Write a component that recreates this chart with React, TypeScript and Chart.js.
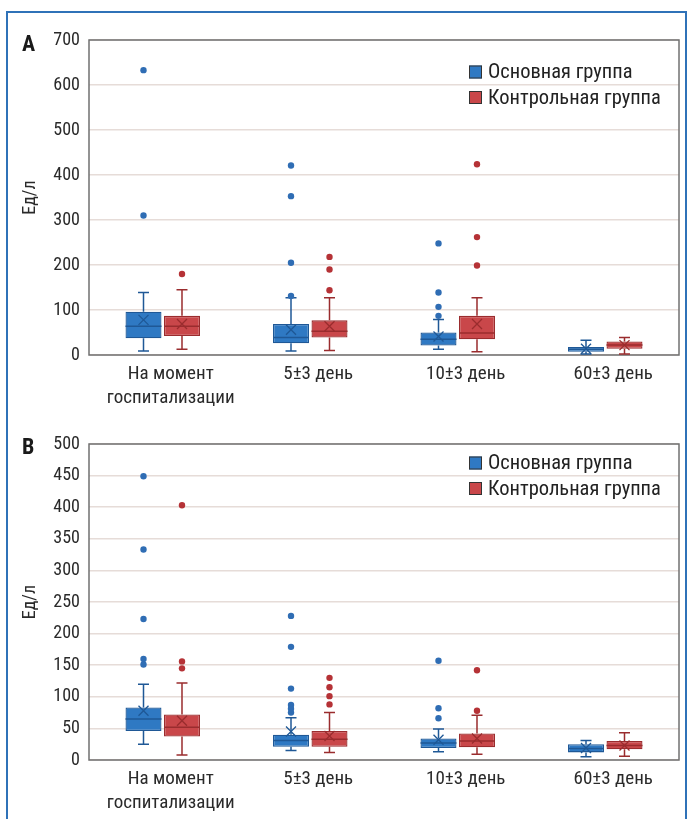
import React, { useEffect, useRef } from 'react';
import { Chart, registerables } from 'chart.js';

Chart.register(...registerables);

// ---------- data ----------
const categories: (string | string[])[] = [['На момент', 'госпитализации'], '5±3 день', '10±3 день', '60±3 день'];
const seriesNames = ['Основная группа', 'Контрольная группа'];
const yUnit = 'Ед/л';

// Panel A
const aMainMin = [9, 9, 13, 2];
const aMainQ1 = [37, 26, 21, 7];
const aMainMedian = [64, 39, 35, 13];
const aMainQ3 = [96, 69, 50, 18];
const aMainMax = [139, 127, 79, 33];
const aMainMean = [78, 56, 41, 14];
const aMainOutliers = [[633, 310], [421, 353, 205, 131], [248, 139, 107, 87], []];

const aCtrlMin = [13, 10, 7, 2];
const aCtrlQ1 = [42, 39, 35, 14];
const aCtrlMedian = [64, 53, 49, 22];
const aCtrlQ3 = [87, 77, 87, 30];
const aCtrlMax = [145, 127, 127, 39];
const aCtrlMean = [69, 64, 69, 22];
const aCtrlOutliers = [[180], [218, 190, 144], [424, 262, 199], []];

const aTicks = { min: 0, max: 700, step: 100 };

// Panel B
const bMainMin = [25, 15, 13, 5];
const bMainQ1 = [46, 21, 19, 12];
const bMainMedian = [65, 31, 27, 18];
const bMainQ3 = [83, 40, 34, 25];
const bMainMax = [120, 67, 49, 31];
const bMainMean = [78, 45, 32, 19];
const bMainOutliers = [[449, 333, 223, 160, 151], [228, 179, 113, 87, 81, 75], [157, 82, 66], []];

const bCtrlMin = [8, 12, 9, 6];
const bCtrlQ1 = [37, 21, 20, 17];
const bCtrlMedian = [52, 33, 30, 23];
const bCtrlQ3 = [72, 46, 42, 30];
const bCtrlMax = [122, 75, 71, 43];
const bCtrlMean = [62, 38, 34, 23];
const bCtrlOutliers = [[403, 156, 145], [130, 115, 101, 88], [142, 78], []];

const bTicks = { min: 0, max: 500, step: 50 };

// ---------- styles ----------
const FONT = "'Liberation Sans Narrow', 'Roboto Condensed', 'Arial Narrow', 'DejaVu Sans Condensed', sans-serif";
const BLUE = { fill: '#2f79c3', line: '#1f5896', point: '#2f6db4' };
const RED = { fill: '#c9474a', line: '#9a2c2e', point: '#b53236' };

type Stats = { min: number[]; q1: number[]; med: number[]; q3: number[]; max: number[]; mean: number[]; out: number[][]; line: string; point: string };

const boxPlugin = {
  id: 'boxExtras',
  beforeDatasetsDraw(chart: any) {
    const { ctx, chartArea: a } = chart;
    ctx.save();
    ctx.strokeStyle = '#707070';
    ctx.lineWidth = 1.5;
    ctx.strokeRect(a.left, a.top, a.right - a.left, a.bottom - a.top);
    ctx.restore();
  },
  afterDatasetsDraw(chart: any, _args: any, opts: any) {
    const ys = chart.scales.y;
    const ctx = chart.ctx;
    const py = (v: number) => ys.getPixelForValue(v);
    const cap = 5.5;
    (opts.stats as Stats[]).forEach((s, d) => {
      const meta = chart.getDatasetMeta(d);
      meta.data.forEach((el: any, i: number) => {
        const x = el.x;
        const w = el.width;
        ctx.save();
        ctx.strokeStyle = s.line;
        ctx.lineWidth = 1.5;
        ctx.beginPath();
        ctx.moveTo(x, py(s.q3[i]));
        ctx.lineTo(x, py(s.max[i]));
        ctx.moveTo(x - cap, py(s.max[i]));
        ctx.lineTo(x + cap, py(s.max[i]));
        ctx.moveTo(x, py(s.q1[i]));
        ctx.lineTo(x, py(s.min[i]));
        ctx.moveTo(x - cap, py(s.min[i]));
        ctx.lineTo(x + cap, py(s.min[i]));
        ctx.moveTo(x - w / 2, py(s.med[i]));
        ctx.lineTo(x + w / 2, py(s.med[i]));
        ctx.stroke();
        // mean marker (x)
        const my = py(s.mean[i]);
        const r = 5;
        ctx.lineWidth = 1.3;
        ctx.beginPath();
        ctx.moveTo(x - r, my - r);
        ctx.lineTo(x + r, my + r);
        ctx.moveTo(x - r, my + r);
        ctx.lineTo(x + r, my - r);
        ctx.stroke();
        // outliers
        ctx.fillStyle = s.point;
        s.out[i].forEach((v) => {
          ctx.beginPath();
          ctx.arc(x, py(v), 3.2, 0, Math.PI * 2);
          ctx.fill();
        });
        ctx.restore();
      });
    });
  },
  afterDraw(chart: any, _args: any, opts: any) {
    const ctx = chart.ctx;
    ctx.save();
    ctx.font = `20.5px ${FONT}`;
    ctx.textBaseline = 'middle';
    ctx.textAlign = 'left';
    chart.data.datasets.forEach((ds: any, k: number) => {
      const y = opts.legendY + k * opts.legendGap;
      ctx.fillStyle = ds.backgroundColor;
      ctx.fillRect(opts.legendX, y - 6.5, 13, 13);
      ctx.strokeStyle = '#333';
      ctx.lineWidth = 1;
      ctx.strokeRect(opts.legendX + 0.5, y - 6, 12, 12);
      ctx.fillStyle = '#222';
      ctx.fillText(ds.label, opts.legendX + 19, y + 1);
    });
    ctx.restore();
  },
};

type PanelProps = {
  height: number;
  top: number;
  padTop: number;
  xAxisHeight: number;
  ticks: { min: number; max: number; step: number };
  main: Stats;
  ctrl: Stats;
  legendY: number;
};

function Panel(p: PanelProps) {
  const ref = useRef<HTMLCanvasElement>(null);
  useEffect(() => {
    const canvas = ref.current!;
    const mk = (s: Stats) => s.q1.map((v, i) => [v, s.q3[i]]);
    const chart = new Chart(canvas, {
      type: 'bar',
      data: {
        labels: categories as any,
        datasets: [
          { label: seriesNames[0], data: mk(p.main) as any, backgroundColor: BLUE.fill, borderColor: BLUE.line, borderWidth: 1.3, borderSkipped: false, categoryPercentage: 0.522, barPercentage: 0.935 },
          { label: seriesNames[1], data: mk(p.ctrl) as any, backgroundColor: RED.fill, borderColor: RED.line, borderWidth: 1.3, borderSkipped: false, categoryPercentage: 0.522, barPercentage: 0.935 },
        ],
      },
      options: {
        responsive: false,
        animation: false,
        devicePixelRatio: 1,
        layout: { padding: { left: 20, right: 8, top: p.padTop, bottom: 0 } },
        plugins: {
          legend: { display: false },
          tooltip: { enabled: false },
          boxExtras: { stats: [p.main, p.ctrl], legendX: 469, legendY: p.legendY, legendGap: 25.5 },
        } as any,
        scales: {
          x: {
            grid: { display: false, drawTicks: false, tickLength: 0 },
            border: { display: false },
            ticks: { font: { family: FONT, size: 19, lineHeight: 1.22 }, color: '#2a2a2a', padding: 8, labelOffset: 8, maxRotation: 0, autoSkip: false },
            afterFit: (scale: any) => { scale.height = p.xAxisHeight; },
          },
          y: {
            min: p.ticks.min,
            max: p.ticks.max,
            grid: { color: '#e6dcd8', lineWidth: 1.5, drawTicks: false, tickLength: 0 },
            border: { display: false },
            ticks: { stepSize: p.ticks.step, font: { family: FONT, size: 18 }, color: '#2a2a2a', padding: 9 },
            title: { display: true, text: yUnit, font: { family: FONT, size: 18 }, color: '#2a2a2a', padding: 0 },
            afterFit: (scale: any) => { scale.width = 69; },
          },
        },
      },
      plugins: [boxPlugin as any],
    });
    return () => chart.destroy();
  }, []);
  return (
    <canvas
      ref={ref}
      width={687}
      height={p.height}
      style={{ position: 'absolute', left: 0, top: p.top, width: 687, height: p.height }}
    />
  );
}

const mainA: Stats = { min: aMainMin, q1: aMainQ1, med: aMainMedian, q3: aMainQ3, max: aMainMax, mean: aMainMean, out: aMainOutliers, line: BLUE.line, point: BLUE.point };
const ctrlA: Stats = { min: aCtrlMin, q1: aCtrlQ1, med: aCtrlMedian, q3: aCtrlQ3, max: aCtrlMax, mean: aCtrlMean, out: aCtrlOutliers, line: RED.line, point: RED.point };
const mainB: Stats = { min: bMainMin, q1: bMainQ1, med: bMainMedian, q3: bMainQ3, max: bMainMax, mean: bMainMean, out: bMainOutliers, line: BLUE.line, point: BLUE.point };
const ctrlB: Stats = { min: bCtrlMin, q1: bCtrlQ1, med: bCtrlMedian, q3: bCtrlQ3, max: bCtrlMax, mean: bCtrlMean, out: bCtrlOutliers, line: RED.line, point: RED.point };

export default function App() {
  const letter: React.CSSProperties = { position: 'absolute', left: 22, fontFamily: FONT, fontWeight: 'bold', fontSize: 22, color: '#1a1a1a', lineHeight: '22px' };
  return (
    <div style={{ position: 'absolute', left: 0, top: 0, width: 687, height: 819, overflow: 'hidden', background: '#fff' }}>
      <div style={{ position: 'absolute', left: 6, top: 11, width: 681, height: 830, border: '2px solid #2f72b8', boxSizing: 'border-box' }} />
      <Panel height={420} top={0} padTop={40} xAxisHeight={65} ticks={aTicks} main={mainA} ctrl={ctrlA} legendY={72} />
      <Panel height={399} top={420} padTop={24} xAxisHeight={59} ticks={bTicks} main={mainB} ctrl={ctrlB} legendY={43} />
      <div style={{ ...letter, top: 33 }}>A</div>
      <div style={{ ...letter, top: 436 }}>B</div>
    </div>
  );
}
